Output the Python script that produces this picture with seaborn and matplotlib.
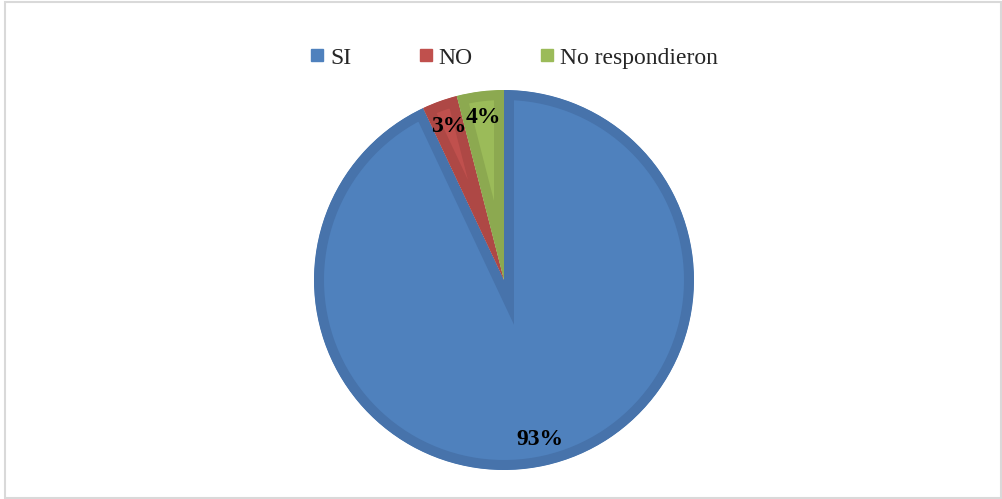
import matplotlib
matplotlib.use("Agg")
import matplotlib.pyplot as plt
from matplotlib.lines import Line2D
from matplotlib.patches import Rectangle
import seaborn as sns

categorias = ["SI", "NO", "No respondieron"]
porcentajes = [93, 3, 4]
colores = ["#4F81BD", "#C0504D", "#9BBB59"]
bordes = ["#4773AB", "#AE4845", "#8CA950"]

sns.set_theme(style="white")
plt.rcParams['font.family'] = ['Liberation Serif', 'DejaVu Serif']

fig = plt.figure(figsize=(10.03, 4.99), dpi=100)
ax = fig.add_axes([314 / 1003, 29 / 499, 380 / 1003, 380 / 499])

wedges, textos, pcts = ax.pie(porcentajes, colors=colores, startangle=90, counterclock=False,
                              autopct='%1.0f%%', pctdistance=0.86, radius=1.0,
                              wedgeprops={'linewidth': 0})
# borde interior oscuro (efecto bisel de Excel)
for w, b in zip(wedges, bordes):
    w.set_edgecolor(b)
    w.set_linewidth(14.4)
    w.set_joinstyle('miter')
    w.set_clip_path(w)
    w.set_clip_on(True)
for t in pcts:
    t.set_fontsize(17)
    t.set_fontweight('bold')
    t.set_color('black')
ax.set_xlim(-1, 1)
ax.set_ylim(-1, 1)
ax.set_aspect('equal')
ax.axis('off')

handles = [Line2D([], [], marker='s', linestyle='', markersize=9, color=c) for c in colores]
fig.legend(handles, categorias, loc='center', bbox_to_anchor=(514 / 1003, 1 - 58 / 499), ncol=3,
           frameon=False, fontsize=17, handlelength=0.6, handletextpad=0.25, columnspacing=2.85)

fig.add_artist(Rectangle((5.5 / 1003, 1.5 / 499), 995.5 / 1003, 495.5 / 499, transform=fig.transFigure,
                         fill=False, edgecolor='#D9D9D9', linewidth=1.5))

fig.savefig('out.png', dpi=100, facecolor='white')
